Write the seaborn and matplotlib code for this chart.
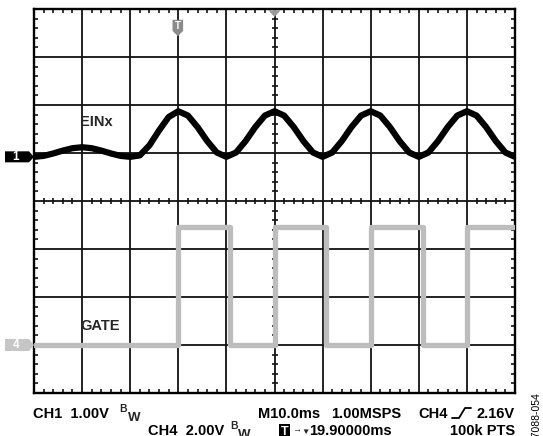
"""
Tela de osciloscopio: EINx (CH1) acompanhando o sinal GATE (CH4).
Valores lidos da captura original (10 ms/div, CH1 1 V/div, CH4 2 V/div).
"""
import matplotlib
matplotlib.use("Agg")

import matplotlib.pyplot as plt
import numpy as np
import pandas as pd
import seaborn as sns
from matplotlib.lines import Line2D
from matplotlib.patches import Polygon
from matplotlib.ticker import MultipleLocator

LARGURA_PX, ALTURA_PX = 543, 436

TEMPO_EIN_MS = list(range(0, 101, 2))
EIN_V = [0.00, 0.02, 0.07, 0.13, 0.18, 0.20, 0.18, 0.13, 0.07, 0.02,
         0.00, 0.03, 0.24, 0.55, 0.83, 0.95, 0.86, 0.62, 0.33, 0.09,
         0.00, 0.09, 0.33, 0.62, 0.86, 0.95, 0.86, 0.62, 0.33, 0.09,
         0.00, 0.09, 0.33, 0.62, 0.86, 0.95, 0.86, 0.62, 0.33, 0.09,
         0.00, 0.09, 0.33, 0.62, 0.86, 0.95, 0.86, 0.62, 0.33, 0.09,
         0.00]
TEMPO_GATE_MS = [0, 30, 40.8, 50, 60.8, 70, 80.8, 90, 100]
GATE_V = [0.0, 4.9, 0.0, 4.9, 0.0, 4.9, 0.0, 4.9, 4.9]

# escala (V/div) e posicao (div acima do centro) de cada canal
CH1_V_DIV, CH1_POS = 1.0, 0.92
CH4_V_DIV, CH4_POS = 2.0, -3.0
TRIGGER_MS = 29.9
POSICAO_H_MS = 50.0

CINZA_TRACO = "#bdbdbd"
CINZA_MARCA4 = "#c6c6c6"
CINZA_T = "#8c8c8c"


def fx(x):
    return x / LARGURA_PX


def fy(y):
    return 1 - y / ALTURA_PX


sns.set_theme(style="white")
plt.rcParams["font.family"] = ["Liberation Sans", "DejaVu Sans"]

fig = plt.figure(figsize=(LARGURA_PX / 100, ALTURA_PX / 100), dpi=100)
fig.patch.set_facecolor("white")
ax = fig.add_axes([fx(34), fy(393), (515 - 34) / LARGURA_PX,
                   (393 - 9) / ALTURA_PX])

ein = pd.DataFrame({"t": TEMPO_EIN_MS,
                    "div": np.array(EIN_V) / CH1_V_DIV + CH1_POS})
gate = pd.DataFrame({"t": TEMPO_GATE_MS,
                     "div": np.array(GATE_V) / CH4_V_DIV + CH4_POS})

sns.lineplot(data=gate, x="t", y="div", ax=ax, color=CINZA_TRACO,
             linewidth=3.8, estimator=None, sort=False,
             drawstyle="steps-post", zorder=3)
sns.lineplot(data=ein, x="t", y="div", ax=ax, color="black",
             linewidth=4.5, estimator=None, sort=False, zorder=4,
             solid_joinstyle="round")

# ---- graticula ----
ax.set_xlim(0, 100)
ax.set_ylim(-4, 4)
ax.set_xlabel("")
ax.set_ylabel("")
ax.xaxis.set_major_locator(MultipleLocator(10))
ax.xaxis.set_minor_locator(MultipleLocator(2))
ax.yaxis.set_major_locator(MultipleLocator(1))
ax.yaxis.set_minor_locator(MultipleLocator(0.2))
ax.grid(True, which="major", color="#111111", linewidth=1.3)
ax.tick_params(which="both", direction="in", color="black",
               bottom=True, top=True, left=True, right=True,
               labelbottom=False, labelleft=False)
ax.tick_params(which="major", length=0)
ax.tick_params(which="minor", length=3, width=1.1)
for s in ax.spines.values():
    s.set_visible(True)
    s.set_color("black")
    s.set_linewidth(1.7)

sx = ax.secondary_xaxis(0.5)
sx.xaxis.set_major_locator(MultipleLocator(10))
sx.xaxis.set_minor_locator(MultipleLocator(2))
sy = ax.secondary_yaxis(0.5)
sy.yaxis.set_major_locator(MultipleLocator(1))
sy.yaxis.set_minor_locator(MultipleLocator(0.2))
for sec in (sx, sy):
    for s in sec.spines.values():
        s.set_visible(False)
    sec.tick_params(which="both", direction="inout", color="black",
                    labelbottom=False, labeltop=False,
                    labelleft=False, labelright=False)
    sec.tick_params(which="major", length=0)
    sec.tick_params(which="minor", length=4.5, width=1.1)

# ---- marcadores de canal e de trigger ----
ytr = ax.get_yaxis_transform()
xtr = ax.get_xaxis_transform()
esq, corpo = -29 / 481, -5 / 481

h1 = 5.5 / 48
ax.add_patch(Polygon([(esq, CH1_POS - h1), (corpo, CH1_POS - h1), (0, CH1_POS),
                      (corpo, CH1_POS + h1), (esq, CH1_POS + h1)],
                     closed=True, transform=ytr, clip_on=False,
                     facecolor="black", edgecolor="none", zorder=6))
ax.text(-18 / 481, CH1_POS, "1", transform=ytr, color="white",
        fontsize=8.5, fontweight="bold", ha="center", va="center",
        clip_on=False, zorder=7)

h4 = 6 / 48
ax.add_patch(Polygon([(esq, CH4_POS - h4), (corpo, CH4_POS - h4), (0, CH4_POS),
                      (corpo, CH4_POS + h4), (esq, CH4_POS + h4)],
                     closed=True, transform=ytr, clip_on=False,
                     facecolor=CINZA_MARCA4, edgecolor="none", zorder=6))
ax.text(-18 / 481, CH4_POS, "4", transform=ytr, color="white",
        fontsize=8.5, fontweight="bold", ha="center", va="center",
        clip_on=False, zorder=7)

ax.add_patch(Polygon([(TRIGGER_MS - 1.1, 0.972), (TRIGGER_MS + 1.1, 0.972),
                      (TRIGGER_MS + 1.1, 0.943), (TRIGGER_MS, 0.929),
                      (TRIGGER_MS - 1.1, 0.943)],
                     closed=True, transform=xtr, facecolor=CINZA_T,
                     edgecolor="none", zorder=6))
ax.text(TRIGGER_MS, 0.956, "T", transform=xtr, color="white", fontsize=7,
        fontweight="bold", ha="center", va="center", zorder=7)

ax.add_patch(Polygon([(POSICAO_H_MS - 1.3, 0.997), (POSICAO_H_MS + 1.3, 0.997),
                      (POSICAO_H_MS, 0.979)],
                     closed=True, transform=xtr, facecolor="#9a9a9a",
                     edgecolor="none", zorder=6, clip_on=False))

# ---- rotulos dos tracos ----
ax.text(9.6, 1.65, "EINx", fontsize=10.5, fontweight="bold",
        ha="left", va="center", zorder=8)
ax.text(9.6, -2.6, "GATE", fontsize=10.5, fontweight="bold",
        ha="left", va="center", zorder=8)

# ---- leitura do rodape ----
neg = dict(fontsize=10.5, fontweight="bold", color="black", va="baseline")
fig.text(fx(33), fy(418), "CH1  1.00V", ha="left", **neg)
fig.text(fx(119), fy(411.5), "B", ha="left", fontsize=7.5,
         fontweight="bold", va="baseline")
fig.text(fx(128), fy(421), "W", ha="left", fontsize=9.5,
         fontweight="bold", va="baseline")

fig.text(fx(320), fy(418), "M10.0ms", ha="right", **neg)
fig.text(fx(331), fy(418), "1.00MSPS", ha="left", **neg)
fig.text(fx(448), fy(418), "CH4", ha="right", **neg)
fig.add_artist(Line2D([fx(452), fx(459), fx(465), fx(471)],
                      [fy(418), fy(418), fy(408), fy(408)],
                      color="black", linewidth=1.3))
fig.text(fx(515), fy(418), "2.16V", ha="right", **neg)

fig.text(fx(148), fy(434.8), "CH4  2.00V", ha="left", **neg)
fig.text(fx(230), fy(428.5), "B", ha="left", fontsize=7.5,
         fontweight="bold", va="baseline")
fig.text(fx(238), fy(437.5), "W", ha="left", fontsize=9.5,
         fontweight="bold", va="baseline")
fig.text(fx(284.5), fy(434.8), "T", ha="center", color="white",
         fontsize=9, fontweight="bold", va="baseline",
         bbox=dict(boxstyle="square,pad=0.12", facecolor="black",
                   edgecolor="none"))
fig.text(fx(292.5), fy(432.8), "\u2192", ha="left", fontsize=6.5,
         va="baseline")
fig.text(fx(301), fy(433.8), "\u25bc", ha="left", fontsize=6,
         va="baseline")
fig.text(fx(309.5), fy(434.8), "19.90000ms", ha="left", **neg)
fig.text(fx(515), fy(434.8), "100k PTS", ha="right", **neg)

fig.text(fx(537), fy(392), "07088-054", rotation=90, ha="center",
         va="top", fontsize=7.5, color="black")

fig.savefig("out.png", dpi=100, facecolor="white")
